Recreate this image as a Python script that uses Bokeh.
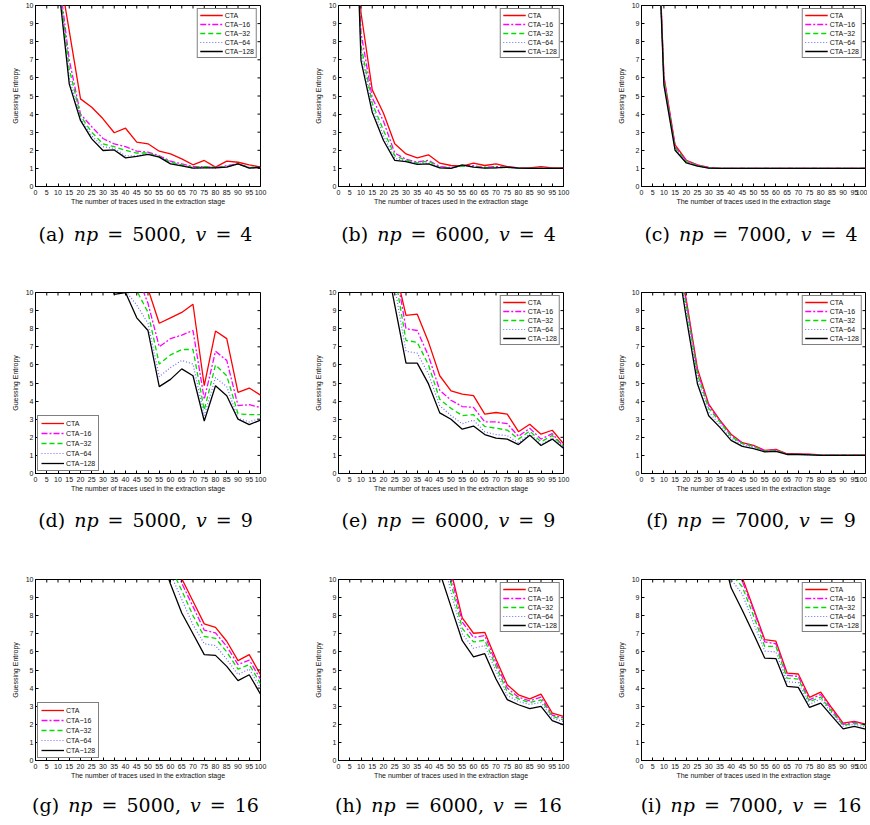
import math
from bokeh.plotting import figure
from bokeh.layouts import row, column
from bokeh.models import Div, FixedTicker, Range1d
from bokeh.embed import file_html
from bokeh.resources import INLINE

NA = float("nan")

traces = list(range(0, 101, 5))
x_ticks = list(range(0, 101, 5))
y_ticks = list(range(0, 11))
series_labels = ["CTA", "CTA\u221216", "CTA\u221232", "CTA\u221264", "CTA\u2212128"]
x_title = "The number of traces used in the extraction stage"
y_title = "Guessing Entropy"

# ---- (a) np=5000, v=4
a_cta = [NA, 25, 12.3, 8.6, 4.84, 4.38, 3.74, 2.97, 3.22, 2.45, 2.36, 1.95, 1.80, 1.53, 1.20, 1.44, 1.07, 1.40, 1.34, 1.20, 1.07]
a_16 = [NA, 24, 12.0, 7.0, 4.0, 3.3, 2.65, 2.35, 2.2, 1.95, 1.9, 1.7, 1.4, 1.25, 1.1, 1.1, 1.05, 1.15, 1.25, 1.05, 1.05]
a_32 = [NA, 23, 11.8, 6.5, 3.9, 3.0, 2.35, 2.2, 2.0, 1.85, 1.85, 1.65, 1.35, 1.2, 1.05, 1.1, 1.05, 1.1, 1.25, 1.05, 1.05]
a_64 = [NA, 22, 11.6, 6.0, 3.75, 2.8, 2.2, 2.1, 1.7, 1.7, 1.8, 1.65, 1.3, 1.15, 1.02, 1.05, 1.03, 1.1, 1.25, 1.02, 1.05]
a_128 = [NA, 21, 11.4, 5.67, 3.65, 2.63, 1.99, 2.02, 1.58, 1.66, 1.77, 1.62, 1.25, 1.14, 1.01, 1.03, 1.03, 1.07, 1.25, 1.01, 1.07]

# ---- (b) np=6000, v=4
b_cta = [NA, 20, 9.6, 5.34, 4.05, 2.36, 1.80, 1.58, 1.75, 1.29, 1.16, 1.12, 1.29, 1.16, 1.25, 1.10, 1.03, 1.03, 1.10, 1.03, 1.03]
b_16 = [NA, 24, 8.5, 4.9, 3.6, 1.85, 1.5, 1.35, 1.45, 1.1, 1.05, 1.15, 1.15, 1.05, 1.1, 1.07, 1.02, 1.0, 1.0, 1.0, 1.0]
b_32 = [NA, 25, 7.8, 4.6, 3.1, 1.7, 1.45, 1.3, 1.4, 1.05, 1.03, 1.12, 1.1, 1.05, 1.05, 1.05, 1.01, 1.0, 1.0, 1.0, 1.0]
b_64 = [NA, 25, 7.4, 4.4, 2.8, 1.55, 1.42, 1.28, 1.3, 1.05, 1.02, 1.15, 1.08, 1.03, 1.05, 1.05, 1.01, 1.0, 1.0, 1.0, 1.0]
b_128 = [NA, 26, 6.96, 4.1, 2.54, 1.44, 1.38, 1.22, 1.25, 1.03, 1.0, 1.2, 1.07, 1.01, 1.03, 1.07, 1.01, 1.0, 1.0, 1.0, 1.0]

# ---- (c) np=7000, v=4
c_cta = [NA, 22, 6.1, 2.3, 1.45, 1.2, 1.05, 1.0, 1.0, 1.0, 1.0, 1.0, 1.0, 1.0, 1.0, 1.0, 1.0, 1.0, 1.0, 1.0, 1.0]
c_16 = [NA, 22, 6.0, 2.2, 1.42, 1.18, 1.04, 1.0, 1.0, 1.0, 1.0, 1.0, 1.0, 1.0, 1.0, 1.0, 1.0, 1.0, 1.0, 1.0, 1.0]
c_32 = [NA, 22, 5.9, 2.15, 1.38, 1.16, 1.03, 1.0, 1.0, 1.0, 1.0, 1.0, 1.0, 1.0, 1.0, 1.0, 1.0, 1.0, 1.0, 1.0, 1.0]
c_64 = [NA, 22, 5.75, 2.08, 1.34, 1.14, 1.02, 1.0, 1.0, 1.0, 1.0, 1.0, 1.0, 1.0, 1.0, 1.0, 1.0, 1.0, 1.0, 1.0, 1.0]
c_128 = [NA, 22, 5.6, 2.0, 1.3, 1.12, 1.02, 1.0, 1.0, 1.0, 1.0, 1.0, 1.0, 1.0, 1.0, 1.0, 1.0, 1.0, 1.0, 1.0, 1.0]

# ---- (d) np=5000, v=9
d_cta = [NA, NA, NA, NA, NA, NA, NA, NA, NA, 12, 10.2, 8.3, 8.6, 8.9, 9.35, 4.85, 7.87, 7.45, 4.48, 4.72, 4.33]
d_16 = [NA, NA, NA, NA, NA, NA, NA, NA, 16, 11, 9.4, 7.0, 7.45, 7.65, 7.9, 4.1, 6.75, 6.25, 3.75, 3.8, 3.65]
d_32 = [NA, NA, NA, NA, NA, NA, NA, NA, 13, 10.1, 8.9, 6.05, 6.55, 6.85, 6.85, 3.5, 6.0, 5.4, 3.3, 3.25, 3.25]
d_64 = [NA, NA, NA, NA, NA, NA, NA, 14, 10.1, 9.3, 8.3, 5.35, 5.85, 6.25, 6.05, 3.2, 5.3, 4.8, 3.05, 2.85, 3.05]
d_128 = [NA, NA, NA, NA, NA, NA, 12, 9.9, 10.0, 8.6, 7.9, 4.8, 5.2, 5.78, 5.4, 2.9, 4.85, 4.3, 3.0, 2.7, 2.95]

# ---- (e) np=6000, v=9
e_cta = [NA, NA, NA, NA, NA, 11.4, 8.74, 8.8, 7.26, 5.4, 4.57, 4.39, 4.3, 3.28, 3.37, 3.28, 2.31, 2.72, 2.17, 2.39, 1.65]
e_16 = [NA, NA, NA, NA, NA, 11.6, 8.0, 7.9, 6.5, 4.6, 4.05, 3.7, 3.65, 2.85, 2.85, 2.75, 2.05, 2.5, 1.9, 2.2, 1.5]
e_32 = [NA, NA, NA, NA, NA, 11.0, 7.35, 7.25, 6.0, 4.1, 3.6, 3.2, 3.25, 2.6, 2.5, 2.4, 1.9, 2.35, 1.75, 2.1, 1.5]
e_64 = [NA, NA, NA, NA, 14, 10.3, 6.75, 6.65, 5.5, 3.75, 3.2, 2.75, 2.95, 2.3, 2.15, 2.1, 1.7, 2.2, 1.6, 1.95, 1.45]
e_128 = [NA, NA, NA, NA, 12.5, 9.3, 6.1, 6.1, 4.95, 3.35, 3.0, 2.45, 2.62, 2.15, 1.95, 1.9, 1.6, 2.12, 1.55, 1.9, 1.4]

# ---- (f) np=7000, v=9
f_cta = [NA, NA, NA, 12.5, 9.6, 5.78, 3.83, 2.95, 2.17, 1.7, 1.55, 1.28, 1.33, 1.09, 1.08, 1.07, 1.03, 1.02, 1.02, 1.02, 1.02]
f_16 = [NA, NA, NA, 12.4, 9.5, 5.6, 3.75, 2.9, 2.1, 1.68, 1.52, 1.25, 1.3, 1.07, 1.07, 1.05, 1.02, 1.01, 1.01, 1.01, 1.01]
f_32 = [NA, NA, NA, 12.3, 9.3, 5.5, 3.6, 2.85, 2.05, 1.65, 1.5, 1.23, 1.28, 1.06, 1.06, 1.04, 1.02, 1.01, 1.01, 1.01, 1.01]
f_64 = [NA, NA, NA, 12.3, 9.0, 5.25, 3.4, 2.7, 1.95, 1.58, 1.45, 1.22, 1.25, 1.05, 1.05, 1.03, 1.01, 1.0, 1.0, 1.0, 1.0]
f_128 = [NA, NA, NA, 12.5, 8.6, 4.94, 3.19, 2.55, 1.83, 1.5, 1.38, 1.2, 1.22, 1.05, 1.05, 1.03, 1.0, 1.0, 1.0, 1.0, 1.0]

# ---- (g) np=5000, v=16
g_cta = [NA, NA, NA, NA, NA, NA, NA, NA, NA, NA, NA, 14, 12, 10.05, 8.8, 7.55, 7.36, 6.59, 5.52, 5.85, 4.74]
g_16 = [NA, NA, NA, NA, NA, NA, NA, NA, NA, NA, NA, 13.5, 11.5, 9.8, 8.5, 7.2, 7.05, 6.3, 5.3, 5.55, 4.5]
g_32 = [NA, NA, NA, NA, NA, NA, NA, NA, NA, NA, NA, 13, 10.7, 9.4, 8.0, 6.85, 6.75, 6.0, 5.05, 5.3, 4.25]
g_64 = [NA, NA, NA, NA, NA, NA, NA, NA, NA, NA, NA, 12.5, 10.3, 8.9, 7.5, 6.45, 6.35, 5.6, 4.75, 5.05, 4.0]
g_128 = [NA, NA, NA, NA, NA, NA, NA, NA, NA, NA, NA, 11.5, 9.75, 8.15, 7.0, 5.85, 5.81, 5.2, 4.41, 4.74, 3.67]

# ---- (h) np=6000, v=16
h_cta = [NA, NA, NA, NA, NA, NA, NA, NA, NA, 13, 10.46, 7.88, 7.03, 7.08, 5.6, 4.19, 3.63, 3.41, 3.67, 2.62, 2.44]
h_16 = [NA, NA, NA, NA, NA, NA, NA, NA, NA, 12.8, 10.2, 7.65, 6.8, 6.9, 5.4, 4.0, 3.5, 3.3, 3.5, 2.5, 2.35]
h_32 = [NA, NA, NA, NA, NA, NA, NA, NA, NA, 12.5, 9.8, 7.3, 6.55, 6.65, 5.2, 3.8, 3.4, 3.2, 3.35, 2.45, 2.25]
h_64 = [NA, NA, NA, NA, NA, NA, NA, NA, NA, 12, 9.3, 7.0, 6.2, 6.35, 4.95, 3.6, 3.25, 3.1, 3.2, 2.35, 2.15]
h_128 = [NA, NA, NA, NA, NA, NA, NA, NA, 13, 10.4, 8.5, 6.62, 5.72, 5.9, 4.5, 3.36, 3.08, 2.86, 2.99, 2.2, 1.97]

# ---- (i) np=7000, v=16
i_cta = [NA, NA, NA, NA, NA, NA, NA, NA, 12, 10.1, 8.4, 6.68, 6.59, 4.83, 4.78, 3.49, 3.78, 2.9, 2.07, 2.16, 2.01]
i_16 = [NA, NA, NA, NA, NA, NA, NA, NA, 11.7, 9.9, 8.3, 6.55, 6.45, 4.7, 4.65, 3.35, 3.65, 2.8, 2.0, 2.12, 1.97]
i_32 = [NA, NA, NA, NA, NA, NA, NA, 14, 10.3, 9.6, 8.0, 6.3, 6.3, 4.55, 4.5, 3.25, 3.5, 2.7, 1.95, 2.05, 1.95]
i_64 = [NA, NA, NA, NA, NA, NA, NA, 13, 10.0, 9.2, 7.6, 6.05, 6.0, 4.35, 4.3, 3.1, 3.4, 2.6, 1.9, 2.0, 1.85]
i_128 = [NA, NA, NA, NA, NA, NA, NA, 12, 9.54, 8.3, 7.0, 5.66, 5.63, 4.1, 4.04, 2.93, 3.17, 2.45, 1.75, 1.88, 1.73]

panels = [
    ("a", 5000, 4, [a_cta, a_16, a_32, a_64, a_128], "top_right"),
    ("b", 6000, 4, [b_cta, b_16, b_32, b_64, b_128], "top_right"),
    ("c", 7000, 4, [c_cta, c_16, c_32, c_64, c_128], "top_right"),
    ("d", 5000, 9, [d_cta, d_16, d_32, d_64, d_128], "bottom_left"),
    ("e", 6000, 9, [e_cta, e_16, e_32, e_64, e_128], "top_right"),
    ("f", 7000, 9, [f_cta, f_16, f_32, f_64, f_128], "top_right"),
    ("g", 5000, 16, [g_cta, g_16, g_32, g_64, g_128], "bottom_left"),
    ("h", 6000, 16, [h_cta, h_16, h_32, h_64, h_128], "top_right"),
    ("i", 7000, 16, [i_cta, i_16, i_32, i_64, i_128], "top_right"),
]

COLORS = ["#ff0000", "#ff00ff", "#00dd00", "#6a6aff", "#000000"]
DASHES = ["solid", "6 2 2 2", "5 3", "1 2", "solid"]
WIDTHS = [1.3, 1.3, 1.3, 1.2, 1.3]
SANS = "Liberation Sans"

BL, BT, BB = 23, 4, 22
FH = 181


def style_axis(ax):
    ax.major_tick_in = 3
    ax.major_tick_out = 0
    ax.minor_tick_line_color = None
    ax.axis_line_color = "black"
    ax.major_tick_line_color = "black"
    ax.major_label_text_font = SANS
    ax.major_label_text_color = "#111111"
    ax.major_label_text_font_size = "7px"
    ax.axis_label_text_font = SANS
    ax.axis_label_text_font_style = "normal"
    ax.axis_label_text_font_size = "7px"
    ax.axis_label_text_color = "#111111"


def make_panel(series, legend_loc, last_col):
    fw = 228 if last_col else 229
    br = 2 if last_col else 51
    x_rng = Range1d(0, 100)
    y_rng = Range1d(0, 10)
    p = figure(width=BL + fw + br, height=BT + FH + BB,
               x_range=x_rng, y_range=y_rng,
               output_backend="svg", toolbar_location=None,
               min_border_left=BL, min_border_right=br,
               min_border_top=BT, min_border_bottom=BB,
               margin=(0, 0, 0, 0))
    p.grid.visible = False
    p.outline_line_color = "black"
    p.outline_line_width = 1
    p.background_fill_color = "white"
    p.border_fill_color = "white"

    for ys, lab, col, dash, w in zip(series, series_labels, COLORS, DASHES, WIDTHS):
        p.line(traces, ys, line_color=col, line_dash=dash, line_width=w, legend_label=lab)

    # inward ticks on the top and right sides of the box (MATLAB style)
    p.ray(x=x_ticks, y=[y_rng.end] * len(x_ticks), length=3, length_units="screen",
          angle=-math.pi / 2, line_color="black", line_width=1)
    p.ray(x=[x_rng.end] * len(y_ticks), y=y_ticks, length=3, length_units="screen",
          angle=math.pi, line_color="black", line_width=1)

    xa = p.xaxis[0]
    xa.ticker = FixedTicker(ticks=x_ticks)
    style_axis(xa)
    xa.major_label_standoff = 3
    xa.axis_label = x_title
    xa.axis_label_standoff = 0

    ya = p.yaxis[0]
    ya.ticker = FixedTicker(ticks=y_ticks)
    style_axis(ya)
    ya.major_label_standoff = 2
    ya.axis_label = y_title
    ya.axis_label_standoff = 4

    lg = p.legend[0]
    lg.location = legend_loc
    lg.border_line_color = "black"
    lg.border_line_width = 1.5
    lg.background_fill_color = "white"
    lg.background_fill_alpha = 1
    lg.label_text_font = SANS
    lg.label_text_font_size = "7px"
    lg.label_text_color = "#111111"
    lg.glyph_width = 23
    lg.glyph_height = 8
    lg.label_height = 8
    lg.label_width = 10
    lg.label_standoff = 2
    if legend_loc == "bottom_left":
        lg.spacing = 2
        lg.padding = 3
        lg.margin = 2
    else:
        lg.spacing = 1
        lg.padding = 2
        lg.margin = 3
    return p, BL + fw + br, fw


def caption(letter, npv, v, width, fw, height, pad_top):
    html = (
        f'<div style="width:{fw}px;margin-left:{BL}px;text-align:center;'
        f"font-family:'DejaVu Serif';font-size:19px;line-height:22px;"
        f'padding-top:{pad_top}px;white-space:nowrap;color:#000;word-spacing:3px">'
        f'({letter}) <i>np</i> = {npv}, <i>v</i> = {v}</div>'
    )
    return Div(text=html, width=width, height=height, margin=(0, 0, 0, 0))


row_div_heights = [80, 80, 35]
row_pads = [15, 14, 12]

rows = []
for r in range(3):
    cells = []
    for c in range(3):
        letter, npv, v, series, loc = panels[r * 3 + c]
        p, w, fw = make_panel(series, loc, c == 2)
        d = caption(letter, npv, v, w, fw, row_div_heights[r], row_pads[r])
        cells.append(column(p, d, spacing=0, margin=(0, 0, 0, 0)))
    rows.append(row(*cells, spacing=0, margin=(0, 0, 0, 0)))

layout = column(*rows, spacing=0, margin=(1, 0, 0, 8))

open("out.html", "w").write(file_html(layout, INLINE))
